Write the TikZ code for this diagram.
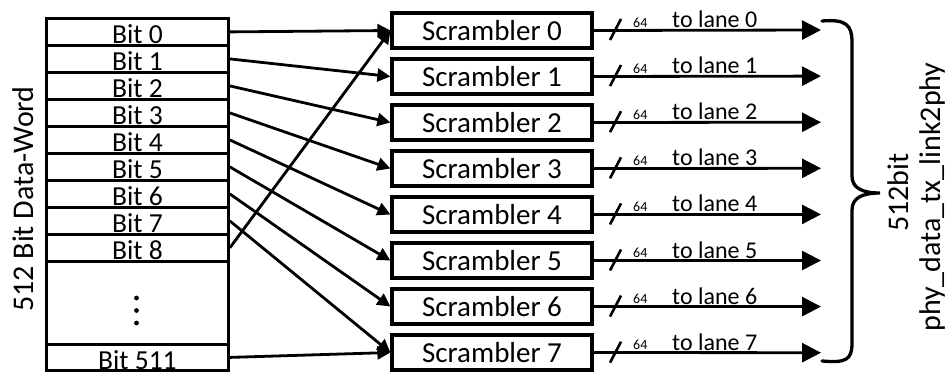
\documentclass[tikz,border=0pt]{standalone}
\usepackage{fontspec}
\setmainfont{Carlito}
\usetikzlibrary{arrows.meta}
\begin{document}
\begin{tikzpicture}[x=1pt,y=-1pt,
  cell/.style={draw,line width=2.8pt,minimum width=182pt,inner sep=0pt,anchor=north west},
  bitlbl/.style={anchor=base,inner sep=0pt,font=\fontsize{27.5}{29}\selectfont},
  scr/.style={draw,line width=3.2pt,minimum width=200pt,minimum height=35pt,inner sep=0pt,font=\fontsize{29}{31}\selectfont},
  inarrow/.style={line width=2.8pt,-{Triangle[length=13pt,width=13pt]}},
  outarrow/.style={line width=2.8pt,-{Triangle[length=19pt,width=19pt]}},
  lanelbl/.style={anchor=base west,inner sep=0pt,font=\fontsize{24}{26}\selectfont},
  widthlbl/.style={anchor=base west,inner sep=0pt,font=\fontsize{14}{16}\selectfont},
  sidelbl/.style={rotate=90,anchor=base,inner sep=0pt,font=\fontsize{30}{32}\selectfont}
]
\useasboundingbox (0,0) rectangle (949,372);
% bit cells
\foreach \i in {0,...,8}{
  \node[cell,minimum height=27pt] (b\i) at (45,17+27*\i) {};
  \node[bitlbl] at ([yshift=3pt]b\i.south) {Bit \i};
}
\node[cell,minimum height=83pt] (bdots) at (45,260) {};
\node[cell,minimum height=26pt] (b511) at (45,343) {};
\node[bitlbl] at ([yshift=2.5pt]b511.south) {Bit 511};
\foreach \yy in {298,310.5,323}{ \fill (136.5,\yy) circle (2.4pt); }
% scramblers
\foreach \k in {0,...,7}{
  \node[scr] (s\k) at (492,30.5+46*\k) {Scrambler \k};
  \coordinate (t\k) at (821,30+46.1*\k);
  \draw[outarrow] (s\k.east) -- (t\k);
  \draw[line width=2.6pt] (610,40+46.1*\k) -- (621,19+46.1*\k);
  \node[widthlbl] at (633,27+46.1*\k) {64};
  \node[lanelbl] at (672,27.5+46.1*\k) {to lane \k};
}
% inputs
\foreach \i in {0,...,7}{ \draw[inarrow] (b\i.east) -- (s\i.west); }
\draw[inarrow] (b8.east) -- (s0.west);
\draw[inarrow] (b511.east) -- (s7.west);
% brace
\draw[line width=3.3pt,line cap=round]
  (822,21) .. controls (846,19) and (852,25) .. (852,42) -- (852,176)
  .. controls (852,188) and (862,193) .. (880,193)
  .. controls (862,193) and (852,198) .. (852,210) -- (852,343)
  .. controls (852,360) and (846,363) .. (822,361);
% labels
\node[sidelbl] (lw) at (33,199) {512 Bit Data-Word};
\node[sidelbl] (l512) at (908,192.5) {512bit};
\node[sidelbl] (lphy) at (940,197) {phy\_data\_tx\_link2phy};
\end{tikzpicture}
\end{document}
